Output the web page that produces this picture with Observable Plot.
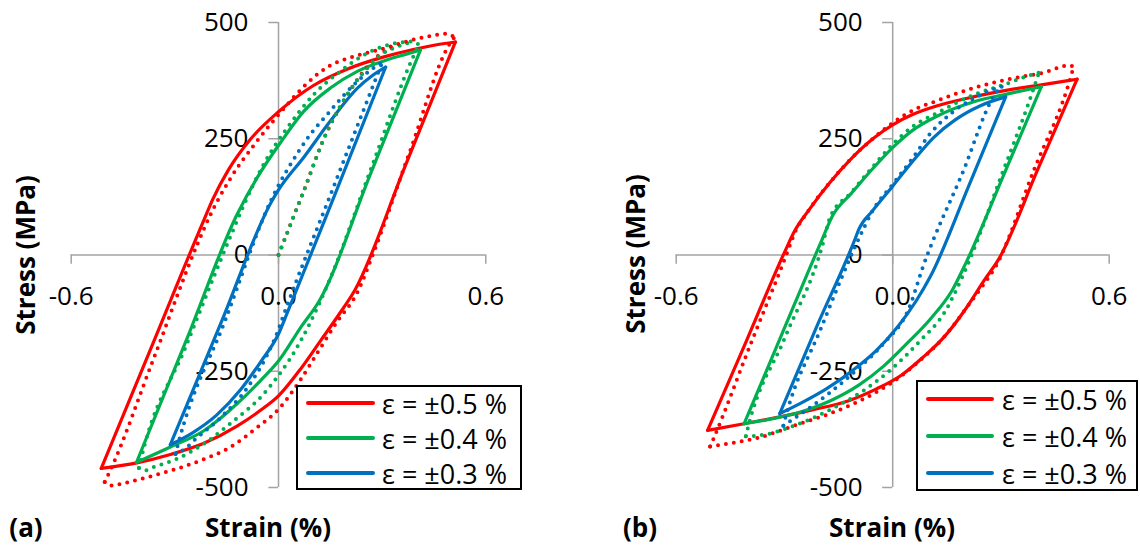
<!DOCTYPE html>
<html><head><meta charset="utf-8">
<script src="https://cdn.jsdelivr.net/npm/d3@7"></script>
<script src="https://cdn.jsdelivr.net/npm/@observablehq/plot@0.6"></script>
<style>
body{margin:0;background:#fff;}
#fig{position:relative;width:1140px;height:548px;overflow:hidden;font-family:"Open Sans",sans-serif;color:#000;}
.panel{position:absolute;top:0;}
.lbl{position:absolute;font-weight:bold;font-size:26px;white-space:nowrap;line-height:1;transform:translate(-50%,-50%);}
.rot{transform:translate(-50%,-50%) rotate(-90deg);}
.legend{position:absolute;border:2px solid #000;background:#fff;box-sizing:border-box;}
.lg-line{position:absolute;height:4px;border-radius:2px;}
.lg-text{position:absolute;font-size:27px;line-height:1;white-space:nowrap;transform:translateY(-50%);}
</style></head><body><div id="fig"></div>
<script>
// ---- tick values / labels ----
const xTicks = [-0.6, 0.0, 0.6];
const xTickLabels = ["-0.6", "0.0", "0.6"];
const yTicks = [500, 250, 0, -250, -500];
const yTickLabels = ["500", "250", "0", "-250", "-500"];
const seriesNames = ["ε = ±0.5 %", "ε = ±0.4 %", "ε = ±0.3 %"];
const seriesColors = ["#FF0000", "#00B050", "#0070C0"];
const panelTags = ["(a)", "(b)"];
const xTitle = "Strain (%)";
const yTitle = "Stress (MPa)";

// ---- panel (a): [strain %, stress MPa]; loops start at the tension tip ----
const aRedTest = [[0.512,458],[0.45,451],[0.39,442],[0.3,425],[0.2,400],[0.1,364],[0.0,308],[-0.08,250],[-0.145,183],[-0.19,120],[-0.216,75],[-0.3645,-192],[-0.513,-459],[-0.41,-447],[-0.313,-429],[-0.216,-405],[-0.12,-368],[-0.052,-334],[0.0,-303],[0.064,-245],[0.122,-184],[0.175,-128],[0.22,-77],[0.366,190],[0.512,458]];
const aRedModel = [[0.509,468],[0.488,476],[0.44,471],[0.39,463],[0.295,442],[0.218,427],[0.141,404],[0.073,362],[-0.004,298],[-0.062,245],[-0.143,160],[-0.2,82],[-0.232,28],[-0.36,-220],[-0.49,-468],[-0.503,-488],[-0.486,-496],[-0.438,-489],[-0.38,-478],[-0.313,-464],[-0.226,-442],[-0.139,-413],[-0.062,-371],[0.001,-331],[0.064,-268],[0.117,-205],[0.17,-143],[0.23,-78],[0.27,-5],[0.38,222],[0.494,452],[0.509,468]];
const aRedInit = [[0,0],[0.07,132],[0.141,266],[0.18,320],[0.218,366],[0.257,405],[0.295,432],[0.33,446]];
const aGreenTest = [[0.411,441],[0.37,432],[0.315,420],[0.228,395],[0.15,359],[0.073,309],[0.006,242],[-0.062,166],[-0.12,87],[-0.265,-180],[-0.411,-446],[-0.313,-413],[-0.216,-378],[-0.12,-320],[-0.052,-270],[0.001,-227],[0.064,-156],[0.117,-100],[0.264,170],[0.411,441]];
const aGreenModel = [[0.406,452],[0.392,459],[0.343,456],[0.257,434],[0.179,395],[0.102,345],[0.025,273],[-0.043,195],[-0.1,108],[-0.139,40],[-0.27,-200],[-0.395,-430],[-0.404,-458],[-0.385,-463],[-0.361,-456],[-0.293,-438],[-0.216,-406],[-0.129,-356],[-0.052,-306],[-0.004,-263],[0.064,-185],[0.117,-106],[0.15,-50],[0.27,190],[0.392,430],[0.406,452]];
const aGreenInit = [[0,0],[0.07,132],[0.141,266],[0.18,322],[0.218,366],[0.257,402],[0.295,430],[0.34,447],[0.392,459]];
const aBlueTest = [[0.31,404],[0.27,385],[0.23,360],[0.15,288],[0.075,212],[0.0,140],[-0.02,115],[-0.1665,-146],[-0.313,-408],[-0.25,-383],[-0.18,-345],[-0.11,-290],[-0.05,-228],[0.0,-170],[0.025,-125],[0.1675,138],[0.31,404]];
const aBlueModel = [[0.3,414],[0.28,405],[0.218,366],[0.15,310],[0.083,250],[0.035,195],[0.0,150],[-0.02,120],[-0.155,-142],[-0.29,-405],[-0.298,-428],[-0.264,-413],[-0.246,-400],[-0.168,-350],[-0.09,-285],[-0.033,-215],[0.0,-160],[0.012,-135],[0.156,140],[0.3,414]];

// ---- panel (b) ----
const bRedTest = [[0.511,378],[0.412,366],[0.322,355],[0.223,340],[0.124,321],[0.055,302],[0,280],[-0.055,250],[-0.114,208],[-0.174,156],[-0.233,96],[-0.273,50],[-0.298,9],[-0.405,-184],[-0.513,-377],[-0.412,-363],[-0.313,-348],[-0.223,-333],[-0.124,-314],[-0.045,-288],[0.025,-258],[0.084,-220],[0.144,-175],[0.203,-115],[0.253,-55],[0.293,-10],[0.402,184],[0.511,378]];
const bRedModel = [[0.501,404],[0.49,408],[0.422,393],[0.322,378],[0.223,359],[0.124,332],[0.064,314],[0,284],[-0.055,250],[-0.114,208],[-0.174,156],[-0.233,96],[-0.273,45],[-0.29,10],[-0.393,-190],[-0.496,-394],[-0.506,-412],[-0.451,-405],[-0.372,-393],[-0.273,-367],[-0.174,-341],[-0.074,-307],[0,-273],[0.074,-228],[0.144,-175],[0.203,-115],[0.253,-62],[0.285,-25],[0.39,180],[0.496,390],[0.501,404]];
const bGreenTest = [[0.412,362],[0.322,347],[0.223,329],[0.124,299],[0.055,268],[0,231],[-0.055,186],[-0.114,133],[-0.164,88],[-0.203,20],[-0.308,-172],[-0.412,-363],[-0.332,-352],[-0.253,-337],[-0.174,-314],[-0.094,-280],[-0.025,-239],[0.045,-186],[0.104,-138],[0.164,-77],[0.203,-17],[0.308,173],[0.412,362]];
const bGreenModel = [[0.405,392],[0.37,384],[0.322,370],[0.223,344],[0.124,306],[0.055,276],[0,238],[-0.055,190],[-0.114,135],[-0.174,80],[-0.195,20],[-0.3,-180],[-0.402,-374],[-0.407,-390],[-0.352,-386],[-0.273,-367],[-0.174,-333],[-0.074,-288],[0,-243],[0.074,-186],[0.144,-123],[0.193,-47],[0.3,168],[0.4,380],[0.405,392]];
const bBlueTest = [[0.313,340],[0.243,321],[0.174,291],[0.114,253],[0.055,201],[0,148],[-0.055,96],[-0.094,55],[-0.104,35],[-0.21,-153],[-0.313,-341],[-0.253,-318],[-0.184,-288],[-0.114,-250],[-0.045,-205],[0.015,-153],[0.064,-100],[0.104,-47],[0.21,147],[0.313,340]];
const bBlueModel = [[0.303,362],[0.285,358],[0.223,336],[0.164,306],[0.104,261],[0.055,208],[0,152],[-0.055,96],[-0.094,35],[-0.2,-160],[-0.298,-352],[-0.303,-367],[-0.253,-341],[-0.174,-296],[-0.094,-243],[-0.025,-190],[0.045,-115],[0.084,-25],[0.19,170],[0.293,355],[0.303,362]];

const AXIS = "#a3a3a3";

// split a loop at its compression tip into two branches, each ordered by increasing strain
function rowsOf(list) {
  const rows = [];
  list.forEach(([key, color, pts]) => {
    let k = 0;
    pts.forEach((p, i) => { if (p[0] < pts[k][0]) k = i; });
    const parts = [pts.slice(0, k + 1).reverse(), pts.slice(k)];
    parts.forEach((part, j) => {
      if (part.length < 2) return;
      part.forEach(([x, y]) => rows.push({key: key + "-" + j, color, x, y}));
    });
  });
  return rows;
}

function panel(solid, dotted, marginLeft, marginRight) {
  return Plot.plot({
    width: 570, height: 548,
    marginLeft, marginRight, marginTop: 22, marginBottom: 61,
    x: {domain: [-0.6, 0.6], axis: null},
    y: {domain: [-500, 500], axis: null},
    color: {type: "identity"},
    style: {fontFamily: "'Open Sans', sans-serif", background: "transparent", overflow: "visible"},
    marks: [
      Plot.ruleY([0], {stroke: AXIS, strokeWidth: 1.5}),
      Plot.ruleX([0], {stroke: AXIS, strokeWidth: 1.5}),
      Plot.ruleY(yTicks, {y: d => d, x1: -0.028, x2: 0, stroke: AXIS, strokeWidth: 1.5}),
      Plot.ruleX(xTicks, {x: d => d, y1: 0, y2: -20, stroke: AXIS, strokeWidth: 1.5}),
      Plot.text(yTicks, {x: 0, y: d => d, text: (d, i) => yTickLabels[i], textAnchor: "end", dx: -30, fontSize: 26, fill: "#000"}),
      Plot.text(xTicks, {x: d => d, y: 0, text: (d, i) => xTickLabels[i], dy: 42, fontSize: 26, fill: "#000"}),
      Plot.line(rowsOf(solid), {x: "x", y: "y", z: "key", stroke: "color", strokeWidth: 3.2, curve: "monotone-x", strokeLinejoin: "miter"}),
      Plot.line(rowsOf(dotted), {x: "x", y: "y", z: "key", stroke: "color", strokeWidth: 4, strokeDasharray: "0 8", strokeLinecap: "round", curve: "monotone-x"})
    ]
  });
}

const fig = document.getElementById("fig");
const [cR, cG, cB] = seriesColors;

const pa = panel(
  [["r", cR, aRedTest], ["g", cG, aGreenTest], ["b", cB, aBlueTest]],
  [["ri", cR, aRedInit], ["gi", cG, aGreenInit], ["rm", cR, aRedModel], ["gm", cG, aGreenModel], ["bm", cB, aBlueModel]],
  70.7, 84.7);
pa.classList.add("panel"); pa.style.left = "0px";
fig.appendChild(pa);

const pb = panel(
  [["r", cR, bRedTest], ["g", cG, bGreenTest], ["b", cB, bBlueTest]],
  [["rm", cR, bRedModel], ["gm", cG, bGreenModel], ["bm", cB, bBlueModel]],
  105.7, 31.3);
pb.classList.add("panel"); pb.style.left = "570px";
fig.appendChild(pb);

function label(text, x, y, rot) {
  const d = document.createElement("div");
  d.className = "lbl" + (rot ? " rot" : "");
  d.textContent = text;
  d.style.left = x + "px"; d.style.top = y + "px";
  fig.appendChild(d);
}
label(yTitle, 25, 255, true);
label(xTitle, 268, 527);
label(panelTags[0], 26, 527);
label(yTitle, 635, 254, true);
label(xTitle, 892, 527);
label(panelTags[1], 640, 527);

function legend(left, top, w, h, lineX0, lineX1, textX, rowsY) {
  const box = document.createElement("div");
  box.className = "legend";
  box.style.left = left + "px"; box.style.top = top + "px";
  box.style.width = w + "px"; box.style.height = h + "px";
  fig.appendChild(box);
  seriesNames.forEach((name, i) => {
    const ln = document.createElement("div");
    ln.className = "lg-line";
    ln.style.background = seriesColors[i];
    ln.style.left = lineX0 + "px"; ln.style.width = (lineX1 - lineX0) + "px";
    ln.style.top = (rowsY[i] - 2) + "px";
    fig.appendChild(ln);
    const t = document.createElement("div");
    t.className = "lg-text";
    t.textContent = name;
    t.style.left = textX + "px"; t.style.top = rowsY[i] + "px";
    fig.appendChild(t);
  });
}
legend(296, 385, 226, 105, 306, 375, 382, [403, 438, 473]);
legend(916, 380, 222, 111, 926, 994, 1002, [399, 436, 473]);
</script></body></html>
